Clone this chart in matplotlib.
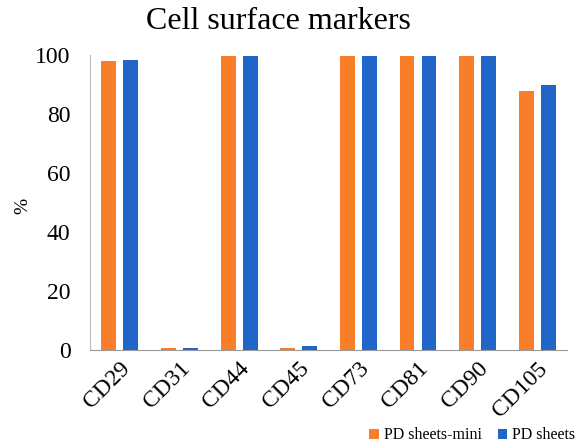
import numpy as np
import matplotlib
matplotlib.use("Agg")
import matplotlib.pyplot as plt

markers = ["CD29", "CD31", "CD44", "CD45", "CD73", "CD81", "CD90", "CD105"]
mini = [98.0, 0.5, 99.8, 0.6, 99.8, 99.8, 99.8, 87.8]
sheets = [98.5, 0.7, 99.8, 1.2, 99.8, 99.8, 99.8, 89.7]

plt.rcParams['font.family'] = ['Liberation Serif', 'DejaVu Serif']

fig = plt.figure(figsize=(5.81, 4.48), dpi=100)
ax = fig.add_axes([0.155, 0.219, 0.821, 0.658])

x = np.arange(len(markers))
w = 0.25
ax.bar(x - 0.185, mini, w, color='#F97E2A', label='PD sheets-mini')
ax.bar(x + 0.185, sheets, w, color='#1F66C8', label='PD sheets')

ax.set_xlim(-0.5, len(markers) - 0.5)
ax.set_ylim(0, 100)
ax.set_yticks([0, 20, 40, 60, 80, 100])
ax.tick_params(axis='y', length=0, labelsize=17, pad=14)
ax.tick_params(axis='x', length=0, labelsize=17, pad=6)
ax.set_xticks(x)
ax.set_xticklabels(markers, rotation=45, ha='right', rotation_mode='anchor')

for s in ['top', 'right']:
    ax.spines[s].set_visible(False)
ax.spines['left'].set_color('#BBBBBB')
ax.spines['bottom'].set_color('#999999')

fig.text(0.04, 0.54, '%', ha='center', va='center', rotation=90, fontsize=14)
fig.text(0.48, 0.952, 'Cell surface markers', ha='center', va='center', fontsize=23)

fig.legend(loc='lower right', bbox_to_anchor=(1.015, -0.022), ncol=2, frameon=False,
           fontsize=11.5, handlelength=0.6, handleheight=0.6, handletextpad=0.3,
           columnspacing=1.0)

fig.savefig('out.png', dpi=100)
